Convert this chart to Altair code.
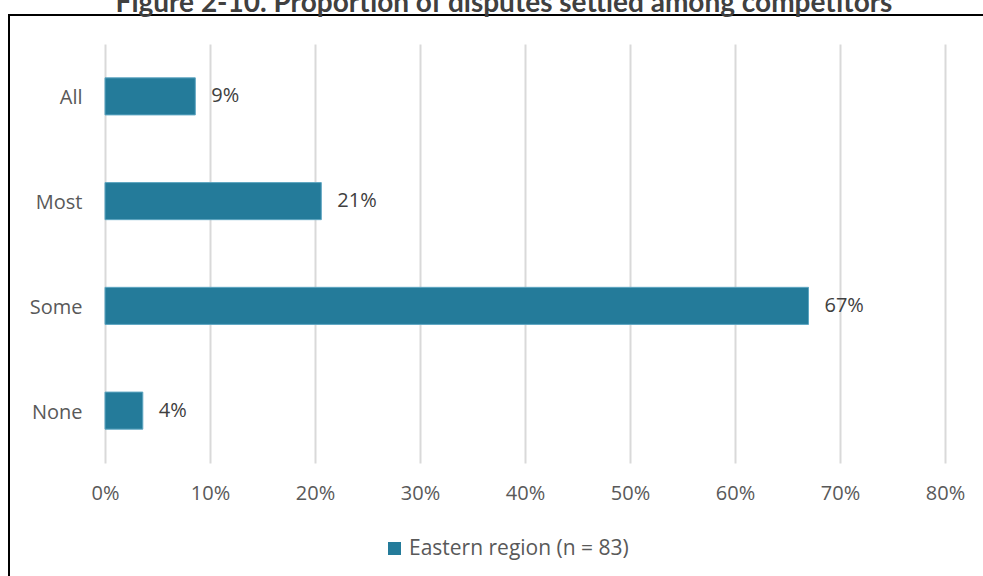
import altair as alt
import pandas as pd

categories = ["All", "Most", "Some", "None"]
values = [0.086, 0.206, 0.670, 0.036]
series_name = "Eastern region (n = 83)"
title_text = "Figure 2-10. Proportion of disputes settled among competitors"
ticks = [0, 0.1, 0.2, 0.3, 0.4, 0.5, 0.6, 0.7, 0.8]

df = pd.DataFrame({"cat": categories, "val": values, "series": [series_name] * len(categories)})

FONT = "Open Sans"
W, H = 840, 419

x_scale = alt.Scale(domain=[0, 0.8], nice=False)
y_scale = alt.Scale(domain=categories, paddingInner=0.646, paddingOuter=0.323)

x_enc = alt.X("val:Q", scale=x_scale,
              axis=alt.Axis(values=ticks, format=".0%", domain=False, ticks=False,
                            grid=True, gridColor="#d9d9d9", gridWidth=2,
                            labelFont=FONT, labelFontSize=20, labelColor="#595959",
                            labelFlush=False, labelPadding=30, labelBaseline="middle",
                            title=None))
y_enc = alt.Y("cat:N", scale=y_scale, sort=categories,
              axis=alt.Axis(domain=False, ticks=False, labelFont=FONT, labelFontSize=20,
                            labelColor="#595959", labelPadding=23, labelOffset=2,
                            title=None))

bars = alt.Chart(df).mark_bar(stroke="#5ea6c2", strokeWidth=1).encode(
    x=x_enc,
    y=y_enc,
    color=alt.Color("series:N", scale=alt.Scale(range=["#247B9A"]),
                    legend=alt.Legend(title=None, orient="none", legendX=279, legendY=494,
                                      symbolType="square", symbolSize=169,
                                      symbolStrokeWidth=0, labelFont=FONT,
                                      labelFontSize=21, labelColor="#595959",
                                      labelOffset=4, labelLimit=500)),
)

labels = alt.Chart(df).mark_text(align="left", baseline="middle", dx=16, font=FONT,
                                 fontSize=20, color="#404040").encode(
    x=alt.X("val:Q", scale=x_scale),
    y=alt.Y("cat:N", scale=y_scale, sort=categories),
    text=alt.Text("val:Q", format=".0%"),
)

border = alt.Chart(pd.DataFrame({"b": [0]})).mark_rect(
    fill="transparent", stroke="#000000", strokeWidth=2
).encode(x=alt.value(-96), x2=alt.value(900), y=alt.value(-29), y2=alt.value(560))

title = alt.Chart(pd.DataFrame({"t": [title_text]})).mark_text(
    align="center", baseline="alphabetic", font="Lato", fontSize=28, fontWeight="bold",
    color="#404040"
).encode(x=alt.value(399), y=alt.value(-32), text="t:N")

chart = alt.layer(border, title, bars, labels).properties(
    width=W, height=H,
    background="white",
    autosize=alt.AutoSizeParams(type="none"),
    padding={"left": 105, "top": 44, "right": 38, "bottom": 113},
).configure_view(stroke=None)

chart.save("out.html", embed_options={"renderer": "svg", "actions": False})
